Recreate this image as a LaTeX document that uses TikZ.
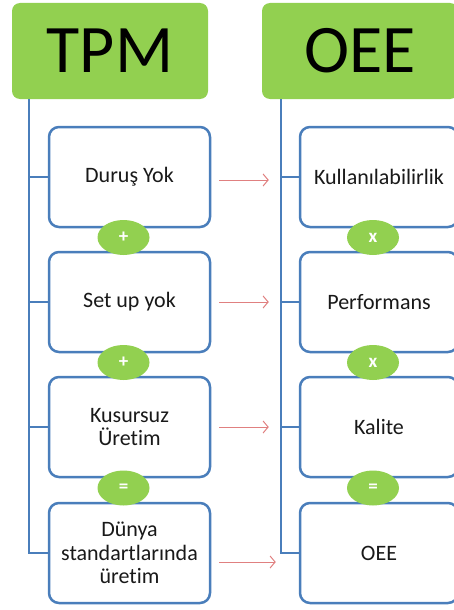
\documentclass[tikz,border=0pt]{standalone}
\usepackage{fontspec}
\setmainfont{Carlito}[Ligatures=NoCommon]
\usetikzlibrary{calc}
\usetikzlibrary{shapes.geometric}
\usetikzlibrary{arrows.meta}

\definecolor{leaf}{HTML}{92D050}
\definecolor{frame}{HTML}{4A7EBB}
\definecolor{pointer}{HTML}{E08080}

\begin{document}
\begin{tikzpicture}[x=1pt,y=-1pt,
    head/.style={fill=leaf, rounded corners=8pt, minimum width=196pt, minimum height=96pt,
        inner sep=0pt, font=\fontsize{68}{68}\selectfont},
    item/.style={draw=frame, line width=2.5pt, rounded corners=10pt, fill=white,
        minimum height=100pt, align=center, text=black!90,
        font=\fontsize{22}{23.5}\selectfont},
    op/.style={ellipse, fill=leaf, minimum width=52pt, minimum height=35pt, inner sep=0pt,
        text=white, font=\bfseries\fontsize{19}{19}\selectfont},
    stem/.style={draw=frame, line width=2.5pt},
    pointer/.style={draw=pointer, line width=1pt, -{Straight Barb[length=5pt,width=12pt]}}]
    \useasboundingbox (0,0) rectangle (453,610);
    \coordinate (lspine) at (29,0);
    \coordinate (rspine) at (281,0);

    \node[head] (tpm) at (110,51) {TPM};
    \node[head] (oee) at (360,51) {OEE};

    \node[item, minimum width=161pt] (d1) at (129.5,177) {Duruş Yok};
    \node[item, minimum width=161pt] (d2) at (129.5,302) {Set up yok};
    \node[item, minimum width=161pt] (d3) at (129.5,427) {Kusursuz\\Üretim};
    \node[item, minimum width=161pt] (d4) at (129.5,553) {Dünya\\standartlarında\\üretim};

    \node[item, minimum width=158pt] (k1) at (379,177) {Kullanılabilirlik};
    \node[item, minimum width=158pt] (k2) at (379,302) {Performans};
    \node[item, minimum width=158pt] (k3) at (379,427) {Kalite};
    \node[item, minimum width=158pt] (k4) at (379,553) {OEE};

    \node[op] (p1) at ($(d1.south)!0.5!(d2.north)+(-6,-2)$) {+};
    \node[op] (p2) at ($(d2.south)!0.5!(d3.north)+(-6,-2)$) {+};
    \node[op] (p3) at ($(d3.south)!0.5!(d4.north)+(-6,-2)$) {=};
    \node[op] (x1) at ($(k1.south)!0.5!(k2.north)+(-6,-2)$) {x};
    \node[op] (x2) at ($(k2.south)!0.5!(k3.north)+(-6,-2)$) {x};
    \node[op] (x3) at ($(k3.south)!0.5!(k4.north)+(-6,-2)$) {=};

    % spines down the left of each column
    \draw[stem] (tpm.south -| lspine) |- (d4.west);
    \draw[stem] (oee.south -| rspine) |- (k4.west);
    \foreach \n in {d1,d2,d3} {
        \draw[stem] (\n.west -| lspine) -- (\n.west);
    }
    \foreach \n in {k1,k2,k3} {
        \draw[stem] (\n.west -| rspine) -- (\n.west);
    }

    \draw[pointer, shorten <=8pt, shorten >=30pt] ([yshift=-3pt]d1.east) -- ([yshift=-3pt]k1.west);
    \draw[pointer, shorten <=8pt, shorten >=30pt] (d2.east) -- (k2.west);
    \draw[pointer, shorten <=8pt, shorten >=30pt] (d3.east) -- (k3.west);
    \draw[pointer, shorten <=8pt, shorten >=23pt] ([yshift=-9pt]d4.east) -- ([yshift=-9pt]k4.west);
\end{tikzpicture}
\end{document}
